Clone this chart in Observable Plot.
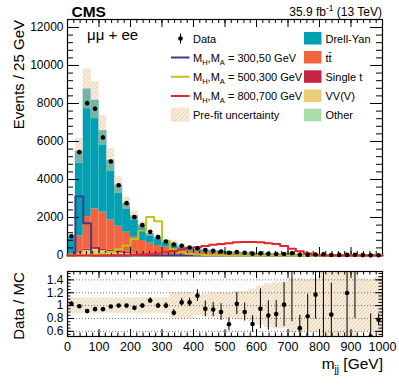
<!DOCTYPE html>
<html><head><meta charset="utf-8">
<script src="https://cdn.jsdelivr.net/npm/d3@7"></script>
<script src="https://cdn.jsdelivr.net/npm/@observablehq/plot@0.6"></script>
<style>
body{margin:0;background:#fff;}
#chart{position:relative;width:399px;height:387px;font-family:"Liberation Sans",Arial,Helvetica,sans-serif;}
#chart svg{position:absolute;left:0;}
</style></head><body><div id="chart"></div>
<script>
// ---------- data (40 bins of 25 GeV in m_jj) ----------
const binWidth = 25;
const massBinLow = [0,25,50,75,100,125,150,175,200,225,250,275,300,325,350,375,400,425,450,475,500,525,550,575,600,625,650,675,700,725,750,775,800,825,850,875,900,925,950,975];

const otherYield = [15,40,60,60,50,40,30,25,20,15,12,10,8,7,6,5,4,4,3,3,2,2,2,2,2,1,1,1,1,1,1,1,1,1,1,1,1,1,1,1];
const vvYield    = [10,60,200,260,200,140,100,75,60,50,40,32,26,22,18,15,12,10,9,8,7,6,5,5,4,4,3,3,3,2,2,2,2,2,1,1,1,1,1,1];
const stYield    = [5,40,80,100,100,90,80,65,55,45,38,32,27,23,19,16,14,12,10,9,8,7,6,5,5,4,4,3,3,3,2,2,2,2,2,1,1,1,1,1];
const ttYield    = [60,880,1710,2030,1930,1600,1330,1060,830,680,560,450,380,300,250,210,175,150,128,110,95,82,70,60,52,45,39,34,29,25,22,19,16,14,12,10,9,8,7,6];
const dyYield    = [900,4470,6710,5720,4290,3150,2160,1525,1125,810,500,441,299,298,197,154,125,124,115,105,93,81,72,63,55,49,43,38,33,29,26,22,19,16,15,14,12,10,8,7];

const dataYield  = [1017,5440,8016,7720,6210,4947,3700,2754,2017,1596,1245,965,737,579,515,420,380,285,250,212,146,183,140,97,112,87,78,80,117,39,44,54,68,30,31,32,41,21,9,12];

const sig300_50  = [0,3100,1700,0,0,0,0,0,0,0,0,0,0,0,0,0,0,0,0,0,0,0,0,0,0,0,0,0,0,0,0,0,0,0,0,0,0,0,0,0];
const sig500_300 = [0,0,0,40,90,180,330,520,870,1310,2020,1800,760,300,170,90,50,30,15,8,0,0,0,0,0,0,0,0,0,0,0,0,0,0,0,0,0,0,0,0];
const sig800_700 = [0,0,0,0,0,0,0,0,20,40,70,110,170,240,310,390,440,500,560,600,650,700,710,710,700,650,600,500,350,230,100,20,0,0,0,0,0,0,0,0];

const ratioVal = [1.03,0.99,0.915,0.945,0.945,0.985,1.0,1.0,0.965,1.0,1.08,1.0,1.0,0.89,1.05,1.05,1.155,0.95,0.94,0.90,0.71,1.03,0.90,0.715,0.95,0.845,0.87,1.015,1.7,0.65,0.835,1.17,1.7,0.86,null,1.195,1.7,null,0.52,0.78];
const ratioErr = [0.03,0.015,0.012,0.012,0.014,0.016,0.018,0.02,0.025,0.028,0.045,0.04,0.045,0.05,0.06,0.065,0.09,0.12,0.11,0.13,0.1,0.17,0.14,0.13,0.31,0.23,0.21,0.34,0.95,0.2,0.34,0.38,1.2,0.49,null,0.7,0.9,null,0.35,0.09];
const relUnc   = [0.12,0.12,0.12,0.12,0.12,0.12,0.12,0.12,0.12,0.12,0.12,0.12,0.12,0.2,0.21,0.2,0.16,0.18,0.19,0.2,0.2,0.22,0.22,0.26,0.3,0.34,0.36,0.36,0.42,0.42,0.4,0.42,0.55,0.6,0.62,0.6,0.55,0.42,0.4,0.45];

const yTicksMain = [0,2000,4000,6000,8000,10000,12000];
const yMinorMain = d3.range(0, 12400, 400);
const xTicks = [0,100,200,300,400,500,600,700,800,900,1000];
const xMinor = d3.range(0, 1001, 20);
const yTicksRatio = [0.6,0.8,1,1.2,1.4];
const yMinorRatio = d3.range(0.55, 1.53, 0.05);

const procs = [
  {name:"Other", vals: otherYield, color:"#a8dca8"},
  {name:"VV(V)", vals: vvYield, color:"#ecce78"},
  {name:"Single t", vals: stYield, color:"#c42342"},
  {name:"tt\u0304", vals: ttYield, color:"#f0643f"},
  {name:"Drell-Yan", vals: dyYield, color:"#00a0b2"}
];
const signals = [
  {label:"300,50 GeV", vals: sig300_50, color:"#3f3c8c"},
  {label:"500,300 GeV", vals: sig500_300, color:"#c2c21e"},
  {label:"800,700 GeV", vals: sig800_700, color:"#e4262a"}
];

// ---------- derived tables ----------
const stackRows = [];
const totals = massBinLow.map((lo, i) => {
  let cum = 0;
  for (const p of procs) {
    stackRows.push({x1: lo, x2: lo + binWidth, y1: cum, y2: cum + p.vals[i], fill: p.color});
    cum += p.vals[i];
  }
  return cum;
});
const bandRows = massBinLow.map((lo, i) => ({x1: lo, x2: lo + binWidth, y1: totals[i]*(1-relUnc[i]), y2: totals[i]*(1+relUnc[i]), r1: 1-relUnc[i], r2: 1+relUnc[i]}));
const dataRows = massBinLow.map((lo, i) => {
  const e = ratioVal[i] ? dataYield[i]*ratioErr[i]/ratioVal[i] : Math.sqrt(dataYield[i]);
  return {c: lo + binWidth/2, v: dataYield[i], lo: dataYield[i]-e, hi: dataYield[i]+e};
});
const ratioRows = massBinLow.map((lo, i) => ({c: lo + binWidth/2, r: ratioVal[i], e: ratioErr[i]})).filter(d => d.r != null);
const stepPts = vals => massBinLow.map((x, i) => ({x, y: vals[i]})).concat([{x: massBinLow[massBinLow.length-1] + binWidth, y: vals[vals.length-1]}]);

const FONT = '"Liberation Sans", Arial, Helvetica, sans-serif';
const W = 399, ML = 67, MR = 17;
const FW = W - ML - MR;
const H1 = 262, MT1 = 19, MB1 = 7, FH1 = H1 - MT1 - MB1;
const H2 = 125, MT2 = 9, MB2 = 51, FH2 = H2 - MT2 - MB2;

function inwardTicks(vals, axis, len, fh) {
  if (axis === "y") return [
    Plot.tickY(vals, {y: d => d, insetRight: FW - len, stroke: "black"}),
    Plot.tickY(vals, {y: d => d, insetLeft: FW - len, stroke: "black"})
  ];
  return [
    Plot.tickX(vals, {x: d => d, insetBottom: fh - len, stroke: "black"}),
    Plot.tickX(vals, {x: d => d, insetTop: fh - len, stroke: "black"})
  ];
}

// ---------- main panel ----------
const main = Plot.plot({
  width: W, height: H1, marginLeft: ML, marginRight: MR, marginTop: MT1, marginBottom: MB1,
  style: {fontFamily: FONT, fontSize: "12px", background: "transparent", color: "black"},
  x: {domain: [0, 1000], axis: null},
  y: {domain: [0, 12420]},
  marks: [
    Plot.rect(stackRows, {x1: "x1", x2: "x2", y1: "y1", y2: "y2", fill: "fill"}),
    Plot.rect(bandRows, {x1: "x1", x2: "x2", y1: "y1", y2: "y2", fill: "url(#hatchMain)"}),
    ...inwardTicks(yMinorMain, "y", 6, FH1),
    ...inwardTicks(yTicksMain, "y", 12, FH1),
    ...inwardTicks(xMinor, "x", 4, FH1),
    ...inwardTicks(xTicks, "x", 8, FH1),
    Plot.frame({stroke: "black", strokeWidth: 1.2}),
    ...signals.map(s => Plot.line(stepPts(s.vals), {x: "x", y: "y", curve: "step-after", stroke: s.color, strokeWidth: 2})),
    Plot.ruleX(dataRows, {x: "c", y1: "lo", y2: "hi", stroke: "black"}),
    Plot.dot(dataRows, {x: "c", y: "v", r: 2.3, fill: "black"}),
    Plot.axisY(yTicksMain, {anchor: "left", tickSize: 0, tickPadding: 4, fontSize: 12, tickFormat: d => String(d)})
  ]
});

// ---------- ratio panel ----------
const ratio = Plot.plot({
  width: W, height: H2, marginLeft: ML, marginRight: MR, marginTop: MT2, marginBottom: MB2,
  style: {fontFamily: FONT, fontSize: "12px", background: "transparent", color: "black"},
  x: {domain: [0, 1000]},
  y: {domain: [0.52, 1.53]},
  marks: [
    Plot.rect(bandRows, {x1: "x1", x2: "x2", y1: "r1", y2: "r2", fill: "url(#hatchRatio)", clip: true}),
    Plot.ruleY(yTicksRatio, {y: d => d, stroke: "#777", strokeDasharray: "1,2"}),
    ...inwardTicks(yMinorRatio, "y", 3.5, FH2),
    ...inwardTicks(yTicksRatio, "y", 7, FH2),
    ...inwardTicks(xMinor, "x", 3.5, FH2),
    ...inwardTicks(xTicks, "x", 7, FH2),
    Plot.ruleX(ratioRows, {x: "c", y1: d => d.r - d.e, y2: d => d.r + d.e, stroke: "black", clip: true}),
    Plot.dot(ratioRows, {x: "c", y: "r", r: 2.3, fill: "black", clip: true}),
    Plot.frame({stroke: "black", strokeWidth: 1.2}),
    Plot.axisY(yTicksRatio, {anchor: "left", tickSize: 0, tickPadding: 4, fontSize: 12, tickFormat: d => String(d)}),
    Plot.axisX(xTicks, {anchor: "bottom", tickSize: 0, tickPadding: 6, fontSize: 12.5, tickFormat: d => String(d)})
  ]
});

const chart = document.getElementById("chart");
main.style.top = "0px";
ratio.style.top = H1 + "px";
chart.appendChild(main);
chart.appendChild(ratio);

function addHatch(svgNode, id) {
  const defs = d3.select(svgNode).insert("defs", ":first-child");
  const p = defs.append("pattern").attr("id", id).attr("patternUnits", "userSpaceOnUse").attr("width", 4).attr("height", 4);
  p.append("rect").attr("width", 4).attr("height", 4).attr("fill", "#ecd0ac").attr("fill-opacity", 0.45);
  p.append("path").attr("d", "M0,4 L4,0 M-1,1 L1,-1 M3,5 L5,3").attr("stroke", "#d6a872").attr("stroke-width", 0.7).attr("stroke-opacity", 0.5);
}
addHatch(main, "hatchMain");
addHatch(ratio, "hatchRatio");

// ---------- texts & legend (main) ----------
const g = d3.select(main).append("g").attr("font-family", FONT).attr("fill", "black").attr("text-anchor", "start");
g.append("text").attr("x", 71.5).attr("y", 17).attr("font-size", 15.5).attr("font-weight", "bold").text("CMS");
const lumi = g.append("text").attr("x", 382).attr("y", 16).attr("font-size", 12).attr("text-anchor", "end");
lumi.append("tspan").text("35.9 fb");
lumi.append("tspan").attr("font-size", 8.5).attr("dy", -5).text("-1");
lumi.append("tspan").attr("dy", 5).text(" (13 TeV)");
g.append("text").attr("x", 87).attr("y", 40).attr("font-size", 15).text("\u03bc\u03bc + ee");
g.append("text").attr("transform", "translate(24,20) rotate(-90)").attr("text-anchor", "end").attr("font-size", 15).text("Events / 25 GeV");

const rowY = [38.5, 57.5, 76.8, 96, 115.2];
const lg = g.append("g").attr("font-size", 11);
// Data
lg.append("line").attr("x1", 180.5).attr("x2", 180.5).attr("y1", rowY[0]-5).attr("y2", rowY[0]+5).attr("stroke", "black");
lg.append("circle").attr("cx", 180.5).attr("cy", rowY[0]).attr("r", 2.3);
lg.append("text").attr("x", 193).attr("y", rowY[0]+4).text("Data");
signals.forEach((s, k) => {
  const y = rowY[k+1];
  lg.append("line").attr("x1", 171).attr("x2", 189.5).attr("y1", y).attr("y2", y).attr("stroke", s.color).attr("stroke-width", 2);
  const t = lg.append("text").attr("x", 193).attr("y", y+4);
  t.append("tspan").text("M");
  t.append("tspan").attr("font-size", 7.5).attr("dy", 3).text("H");
  t.append("tspan").attr("dy", -3).text(",M");
  t.append("tspan").attr("font-size", 7.5).attr("dy", 3).text("A");
  t.append("tspan").attr("dy", -3).text(" = " + s.label);
});
lg.append("rect").attr("x", 171).attr("y", rowY[4]-7.5).attr("width", 18.5).attr("height", 14).attr("fill", "url(#hatchMain)");
lg.append("text").attr("x", 193).attr("y", rowY[4]+4).text("Pre-fit uncertainty");
[...procs].reverse().forEach((p, k) => {
  const y = rowY[k];
  lg.append("rect").attr("x", 304).attr("y", y-6.5).attr("width", 17.5).attr("height", 12.5).attr("fill", p.color);
  lg.append("text").attr("x", 325.5).attr("y", y+4).text(p.name);
});

// ---------- texts (ratio) ----------
const g2 = d3.select(ratio).append("g").attr("font-family", FONT).attr("fill", "black").attr("text-anchor", "start");
g2.append("text").attr("transform", "translate(24,44) rotate(-90)").attr("text-anchor", "middle").attr("font-size", 15).text("Data / MC");
const xl = g2.append("text").attr("x", 383).attr("y", 107).attr("text-anchor", "end").attr("font-size", 15.5);
xl.append("tspan").text("m");
xl.append("tspan").attr("font-size", 10).attr("dy", 4).text("jj");
xl.append("tspan").attr("dy", -4).text(" [GeV]");
</script></body></html>
